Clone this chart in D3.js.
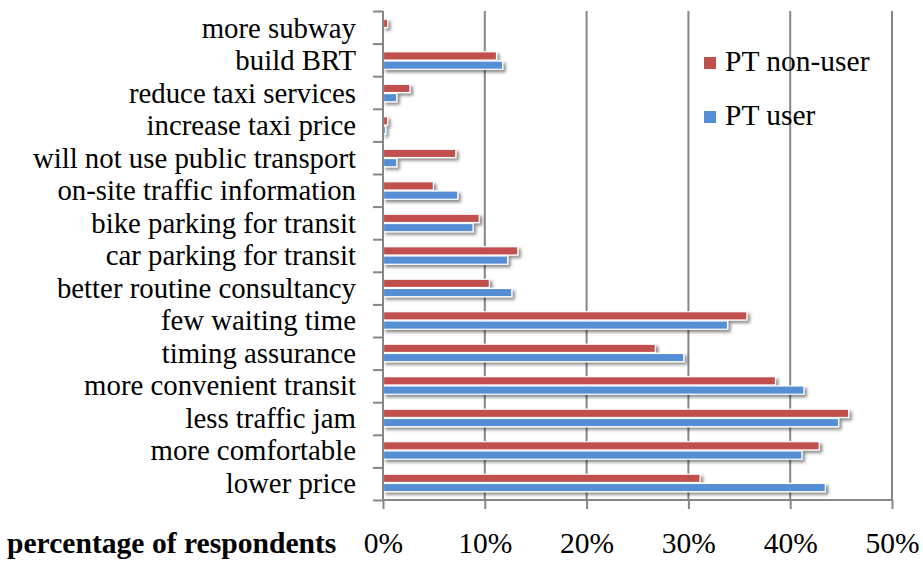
<!DOCTYPE html>
<html>
<head>
<meta charset="utf-8">
<script src="https://cdn.jsdelivr.net/npm/d3@7"></script>
<style>
  html, body { margin: 0; padding: 0; background: #fff; }
  svg { display: block; }
  text { font-family: "Liberation Serif", "Times New Roman", serif; fill: #000; }
</style>
</head>
<body>
<svg id="chart" width="923" height="563"></svg>
<script>
// Reasons given for choosing public transport, by respondent group (top to bottom)
const categories = [
  "more subway",
  "build BRT",
  "reduce taxi services",
  "increase taxi price",
  "will not use public transport",
  "on-site traffic information",
  "bike parking for transit",
  "car parking for transit",
  "better routine consultancy",
  "few waiting time",
  "timing assurance",
  "more convenient transit",
  "less traffic jam",
  "more comfortable",
  "lower price"
];
const seriesNames = ["PT non-user", "PT user"];
const nonUser = [0.4, 11.1, 2.6, 0.4, 7.1, 4.9, 9.4, 13.2, 10.4, 35.7, 26.7, 38.5, 45.7, 42.8, 31.1];
const user    = [0.0, 11.7, 1.3, 0.2, 1.3, 7.3, 8.8, 12.2, 12.6, 33.8, 29.5, 41.3, 44.7, 41.1, 43.4];
const xTicks = [0, 10, 20, 30, 40, 50];
const axisTitle = "percentage of respondents";

const colors = ["#C0504D", "#558ED5"];
const seriesValues = [nonUser, user];

const svg = d3.select("#chart");
const margin = { left: 383, right: 31, top: 11, bottom: 63 };
const W = 923, H = 563;
const x0 = margin.left, x1 = W - margin.right;
const y0 = margin.top, y1 = H - margin.bottom;

const x = d3.scaleLinear().domain([0, 50]).range([x0, x1]);
const y = d3.scaleBand().domain(categories).range([y0, y1])
  .paddingInner(0.43).paddingOuter(0.24);
const ySub = d3.scaleBand().domain(seriesNames).range([0, y.bandwidth()]);
const yEdges = d3.scaleLinear().domain([0, categories.length]).range([y0, y1]);

// drop shadow for the bars
const defs = svg.append("defs");
const f = defs.append("filter").attr("id", "shadow")
  .attr("x", "-5%").attr("y", "-40%").attr("width", "115%").attr("height", "200%");
f.append("feDropShadow").attr("dx", 2.5).attr("dy", 2.5)
  .attr("stdDeviation", 1.6).attr("flood-color", "#000").attr("flood-opacity", 0.45);

const gridColor = "#868686";

// vertical gridlines
svg.append("g").selectAll("line").data(xTicks.slice(1)).join("line")
  .attr("x1", d => x(d)).attr("x2", d => x(d))
  .attr("y1", y0).attr("y2", y1)
  .attr("stroke", gridColor).attr("stroke-width", 2);

// bars
const rows = categories.map((c, i) => ({ c, vals: seriesValues.map(s => s[i]) }));
const group = svg.append("g").attr("filter", "url(#shadow)");
rows.forEach(r => {
  r.vals.forEach((v, j) => {
    if (v <= 0) return;
    group.append("rect")
      .attr("x", x(0) + 0.5)
      .attr("y", y(r.c) + ySub(seriesNames[j]) + 0.5)
      .attr("width", x(v) - x(0))
      .attr("height", ySub.bandwidth() - 1)
      .attr("fill", colors[j])
      .attr("stroke", "#fff").attr("stroke-width", 1.2);
  });
});

// left axis line with ticks at category boundaries
const leftAxis = svg.append("g").attr("transform", `translate(${x0},0)`)
  .call(d3.axisLeft(yEdges).ticks(categories.length).tickSize(10).tickFormat(""));
leftAxis.selectAll("path, line").attr("stroke", gridColor).attr("stroke-width", 2);
leftAxis.select(".domain").attr("d", `M0,${y0}V${y1}`);

// category labels
const labelAxis = svg.append("g").attr("transform", `translate(${x0},0)`)
  .call(d3.axisLeft(y).tickSize(0).tickPadding(27));
labelAxis.select(".domain").remove();
labelAxis.selectAll("text")
  .attr("font-size", 28.8).attr("dy", "0.34em");

// bottom axis
const bottomAxis = svg.append("g").attr("transform", `translate(0,${y1})`)
  .call(d3.axisBottom(x).tickValues(xTicks).tickSize(9).tickPadding(23)
    .tickFormat(d => d + "%"));
bottomAxis.selectAll("path, line").attr("stroke", gridColor).attr("stroke-width", 2);
bottomAxis.select(".domain").attr("d", `M${x0},0H${x1}`);
bottomAxis.selectAll("text").attr("font-size", 29.5);

// axis title
svg.append("text")
  .attr("x", 7).attr("y", 553)
  .attr("font-size", 29.6).attr("font-weight", "bold")
  .text(axisTitle);

// legend
const legend = svg.append("g").attr("transform", "translate(704,0)");
seriesNames.forEach((name, i) => {
  const base = 71 + i * 54;
  legend.append("rect")
    .attr("x", 0).attr("y", base - 14).attr("width", 12).attr("height", 12)
    .attr("fill", colors[i]);
  legend.append("text")
    .attr("x", 21).attr("y", base)
    .attr("font-size", 29.5)
    .text(name);
});
</script>
</body>
</html>
